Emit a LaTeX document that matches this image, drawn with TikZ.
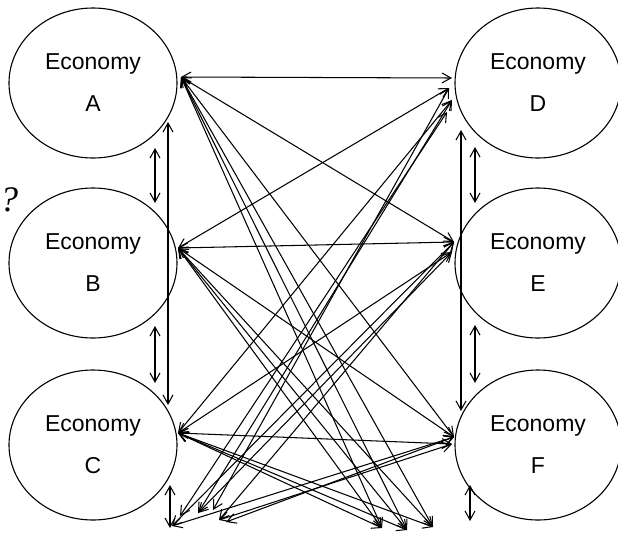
\documentclass[tikz,border=0pt]{standalone}
\usepackage{fontspec}
\setmainfont{Liberation Sans}
\newfontfamily\qfont{Liberation Serif}
\usetikzlibrary{shapes.geometric,arrows.meta}
\begin{document}
\begin{tikzpicture}[x=1pt,y=-1pt,
  econ/.style={draw,ellipse,line width=1.1pt,minimum width=168pt,minimum height=150pt,inner sep=0pt,align=center,font=\fontsize{23}{27}\selectfont},
  link/.style={line width=1.05pt,{Straight Barb[length=9pt,width=10pt]}-{Straight Barb[length=9pt,width=10pt]}},
]
\useasboundingbox (0,0) rectangle (618,533);
% economies
\node[econ] (A) at (93,83) {Economy\\[15pt]A};
\node[econ] (B) at (93,263) {Economy\\[15pt]B};
\node[econ] (C) at (93,445) {Economy\\[15pt]C};
\node[econ,minimum width=166pt] (D) at (538,83) {Economy\\[15pt]D};
\node[econ,minimum width=166pt] (E) at (538,263) {Economy\\[15pt]E};
\node[econ,minimum width=166pt] (F) at (538,445) {Economy\\[15pt]F};
\node (q) at (9,200) {\fontsize{36}{40}\selectfont\qfont\itshape ?};
% hubs
\coordinate (a) at (181,77);
\coordinate (b) at (178,248);
\coordinate (c) at (178,433);
\coordinate (d) at (452,78);
\coordinate (d2) at (449,88);
\coordinate (d3) at (452,100);
\coordinate (d4) at (447,112);
\coordinate (e) at (454,242);
\coordinate (e2) at (452,252);
\coordinate (f) at (454,437);
\coordinate (f2) at (452,444);
% bottom ends
\coordinate (r1) at (382,528);
\coordinate (r2) at (407,530);
\coordinate (r3) at (433,527);
\coordinate (l1) at (172,526);
\coordinate (l2) at (180,516);
\coordinate (l3) at (198,513);
\coordinate (l4) at (213,510);
\coordinate (l5) at (219,520);
\coordinate (l6) at (226,522);
% cross links
\draw[link] (a) -- (d);
\draw[link] (a) -- (e);
\draw[link] (a) -- (f);
\draw[link] (a) -- (r1);
\draw[link] (a) -- (r2);
\draw[link] (a) -- (r3);
\draw[link] (b) -- (d2);
\draw[link] (b) -- (e);
\draw[link] (b) -- (f);
\draw[link] (b) -- (r1);
\draw[link] (b) -- (r2);
\draw[link] (b) -- (r3);
\draw[link] (c) -- (d3);
\draw[link] (c) -- (e2);
\draw[link] (c) -- (f2);
\draw[link] (c) -- (r1);
\draw[link] (c) -- (r2);
\draw[link] (c) -- (r3);
\draw[link] (d4) -- (l2);
\draw[link] (d3) -- (l3);
\draw[link] (d2) -- (l4);
\draw[link] (e) -- (l1);
\draw[link] (e2) -- (l3);
\draw[link] (e) -- (l5);
\draw[link] (f) -- (l1);
\draw[link] (f2) -- (l5);
\draw[link] (f) -- (l6);
% vertical links
\coordinate (v1a) at (155,148); \coordinate (v1b) at (155,203);
\coordinate (v2a) at (155,326); \coordinate (v2b) at (155,383);
\coordinate (v3a) at (170,485); \coordinate (v3b) at (170,528);
\coordinate (v4a) at (475,147); \coordinate (v4b) at (475,203);
\coordinate (v5a) at (475,325); \coordinate (v5b) at (475,383);
\coordinate (v6a) at (470,485); \coordinate (v6b) at (470,521);
\coordinate (la) at (168,122); \coordinate (lb) at (168,405);
\coordinate (ra) at (461,130); \coordinate (rb) at (461,411);
\draw[link] (v1a) -- (v1b);
\draw[link] (v2a) -- (v2b);
\draw[link] (v3a) -- (v3b);
\draw[link] (v4a) -- (v4b);
\draw[link] (v5a) -- (v5b);
\draw[link] (v6a) -- (v6b);
\draw[link] (la) -- (lb);
\draw[link] (ra) -- (rb);
\end{tikzpicture}
\end{document}
